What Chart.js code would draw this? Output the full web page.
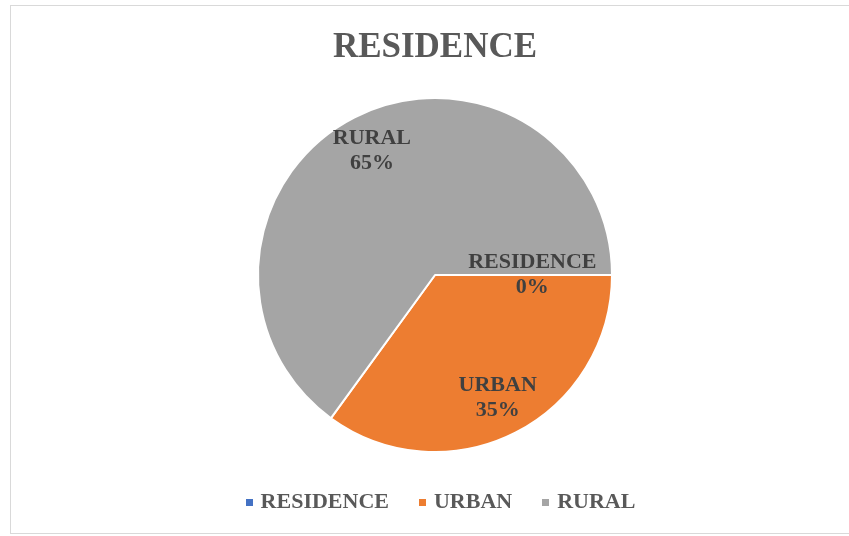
<!DOCTYPE html>
<html>
<head>
<meta charset="utf-8">
<script src="https://cdn.jsdelivr.net/npm/chart.js@4/dist/chart.umd.min.js"></script>
<style>
  html, body { margin: 0; padding: 0; background: #ffffff; }
  #wrap { width: 849px; height: 536px; }
</style>
</head>
<body>
<div id="wrap"><canvas id="chart" width="849" height="536"></canvas></div>
<script>
// Residence breakdown (percent of respondents)
const categories = ['RESIDENCE', 'URBAN', 'RURAL'];
const shares = [0, 35, 65];
const sliceColors = ['#4472C4', '#ED7D31', '#A5A5A5'];
const chartTitle = 'RESIDENCE';

const SERIF = '"Liberation Serif", "Times New Roman", serif';

// radial placement of each slice label (fraction of the radius)
const labelRadius = [0.55, 0.78, 0.785];

// small coloured square used as the legend marker
function markerFor(color) {
  const c = document.createElement('canvas');
  c.width = 7; c.height = 7;
  const g = c.getContext('2d');
  g.fillStyle = color;
  g.fillRect(0, 0, 7, 7);
  return c;
}

const frame = {
  id: 'frame',
  beforeDraw(chart) {
    const ctx = chart.ctx;
    ctx.save();
    ctx.fillStyle = '#ffffff';
    ctx.fillRect(0, 0, chart.width, chart.height);
    ctx.strokeStyle = '#D9D9D9';
    ctx.lineWidth = 1;
    ctx.strokeRect(10.5, 5.5, chart.width + 10, 528);
    ctx.restore();
  }
};

// nudge the legend row slightly right and down
const legendNudge = {
  id: 'legendNudge',
  afterLayout(chart) {
    const lg = chart.legend;
    if (!lg) return;
    lg.left += 7; lg.right += 7;
    lg.top += 2.5; lg.bottom += 2.5;
  }
};

const sliceLabels = {
  id: 'sliceLabels',
  afterDatasetsDraw(chart) {
    const ctx = chart.ctx;
    const meta = chart.getDatasetMeta(0);
    const data = chart.data.datasets[0].data;
    const total = data.reduce((a, b) => a + b, 0);
    ctx.save();
    ctx.font = 'bold 22px ' + SERIF;
    ctx.fillStyle = '#404040';
    ctx.textAlign = 'center';
    ctx.textBaseline = 'middle';
    meta.data.forEach((arc, i) => {
      const p = arc.getProps(['x', 'y', 'startAngle', 'endAngle', 'outerRadius'], true);
      const mid = (p.startAngle + p.endAngle) / 2;
      const r = p.outerRadius * labelRadius[i];
      const cx = p.x + Math.cos(mid) * r;
      const cy = p.y + Math.sin(mid) * r;
      const pct = Math.round(data[i] / total * 100) + '%';
      ctx.fillText(chart.data.labels[i], cx, cy - 12.5);
      ctx.fillText(pct, cx, cy + 12.5);
    });
    ctx.restore();
  }
};

new Chart(document.getElementById('chart'), {
  type: 'pie',
  data: {
    labels: categories,
    datasets: [{
      data: shares,
      backgroundColor: sliceColors,
      borderColor: '#ffffff',
      borderWidth: 2,
      hoverOffset: 0
    }]
  },
  options: {
    responsive: false,
    animation: false,
    rotation: 90,
    radius: 177,
    layout: { padding: { top: 27, bottom: 15.5, left: 21, right: 0 } },
    plugins: {
      title: {
        display: true,
        text: chartTitle,
        color: '#595959',
        font: { family: SERIF, size: 35, weight: 'bold', lineHeight: 1.2 },
        padding: { top: 0, bottom: 25.5 }
      },
      legend: {
        position: 'bottom',
        labels: {
          color: '#595959',
          font: { family: SERIF, size: 22, weight: 'bold' },
          usePointStyle: true,
          boxWidth: 1,
          boxHeight: 7,
          padding: 33,
          generateLabels(chart) {
            const base = Chart.overrides.pie.plugins.legend.labels.generateLabels(chart);
            return base.map((item, i) => Object.assign(item, {
              pointStyle: markerFor(sliceColors[i]),
              lineWidth: 0
            }));
          }
        }
      },
      tooltip: { enabled: false }
    }
  },
  plugins: [frame, legendNudge, sliceLabels]
});
</script>
</body>
</html>
